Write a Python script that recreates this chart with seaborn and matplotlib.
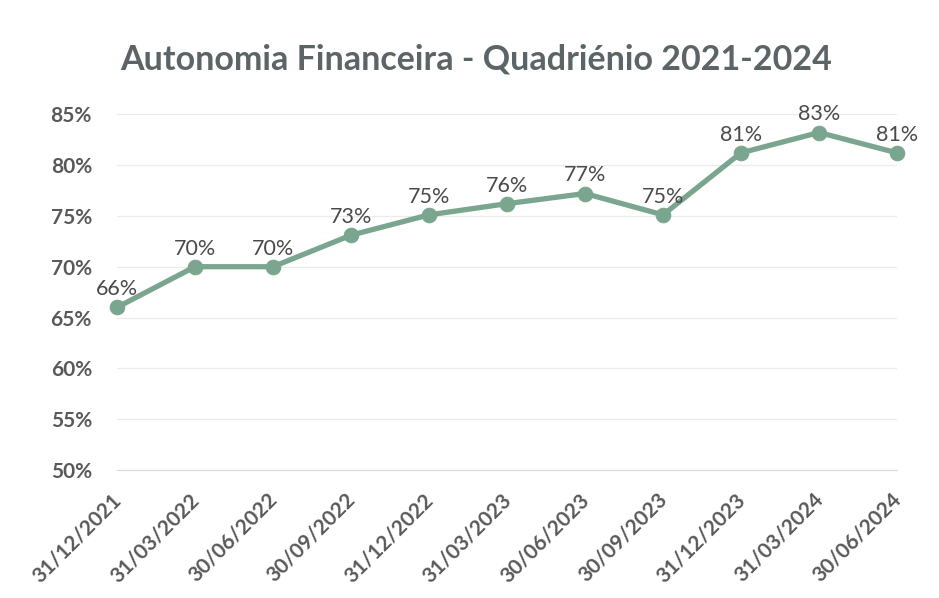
import pandas as pd
import seaborn as sns
import matplotlib.pyplot as plt
import matplotlib.transforms as mtransforms
from matplotlib.ticker import PercentFormatter

# data
datas = ["31/12/2021", "31/03/2022", "30/06/2022", "30/09/2022", "31/12/2022",
         "31/03/2023", "30/06/2023", "30/09/2023", "31/12/2023", "31/03/2024",
         "30/06/2024"]
autonomia = [66.0, 70.0, 70.0, 73.1, 75.1, 76.2, 77.2, 75.1, 81.2, 83.2, 81.2]
y_ticks = [50, 55, 60, 65, 70, 75, 80, 85]

df = pd.DataFrame({"data": datas, "valor": autonomia})
df["pos"] = range(len(df))

sns.set_style("white")
plt.rcParams["font.family"] = ["Lato", "DejaVu Sans"]

line_color = "#7aa58e"
text_color = "#595959"

fig = plt.figure(figsize=(9.39, 5.98), dpi=100)
ax = fig.add_axes([0.1246, 0.214, 0.8307, 0.595])

ax.grid(axis="y", color="#ebebeb", linewidth=0.9)
sns.lineplot(data=df, x="pos", y="valor", ax=ax, color=line_color, linewidth=3.8,
             marker="o", markersize=10.5, markeredgecolor=line_color, zorder=3,
             clip_on=False)

# data labels
for x, v in zip(df["pos"], df["valor"]):
    ax.text(x, v + 0.8, f"{v:.0f}%", ha="center", va="bottom", fontsize=15.5,
            color="#4a4a4a")

ax.set_xlim(0, len(datas) - 1)
ax.set_ylim(50, 85)
ax.set_yticks(y_ticks)
ax.yaxis.set_major_formatter(PercentFormatter(decimals=0))
ax.set_xticks(df["pos"])
ax.set_xticklabels(datas, rotation=45, ha="right", rotation_mode="anchor")
ax.tick_params(axis="y", length=0, pad=18, labelsize=15, labelcolor=text_color)
ax.tick_params(axis="x", length=5, color="#d9d9d9", pad=9, labelsize=15,
               labelcolor=text_color)
# nudge the rotated date labels a little to the left
shift = mtransforms.ScaledTranslation(-6 / 100, 0, fig.dpi_scale_trans)
for lbl in ax.get_xticklabels():
    lbl.set_transform(lbl.get_transform() + shift)
for lbl in ax.get_xticklabels() + ax.get_yticklabels():
    lbl.set_fontweight("bold")

for side in ["top", "right", "left"]:
    ax.spines[side].set_visible(False)
ax.spines["bottom"].set_color("#d9d9d9")

ax.set_xlabel("")
ax.set_ylabel("")
fig.suptitle("Autonomia Financeira - Quadriénio 2021-2024", x=0.507, y=0.90,
             va="center", fontsize=24.5, fontweight="bold", color="#5b6466")

plt.savefig("out.png", dpi=100)
